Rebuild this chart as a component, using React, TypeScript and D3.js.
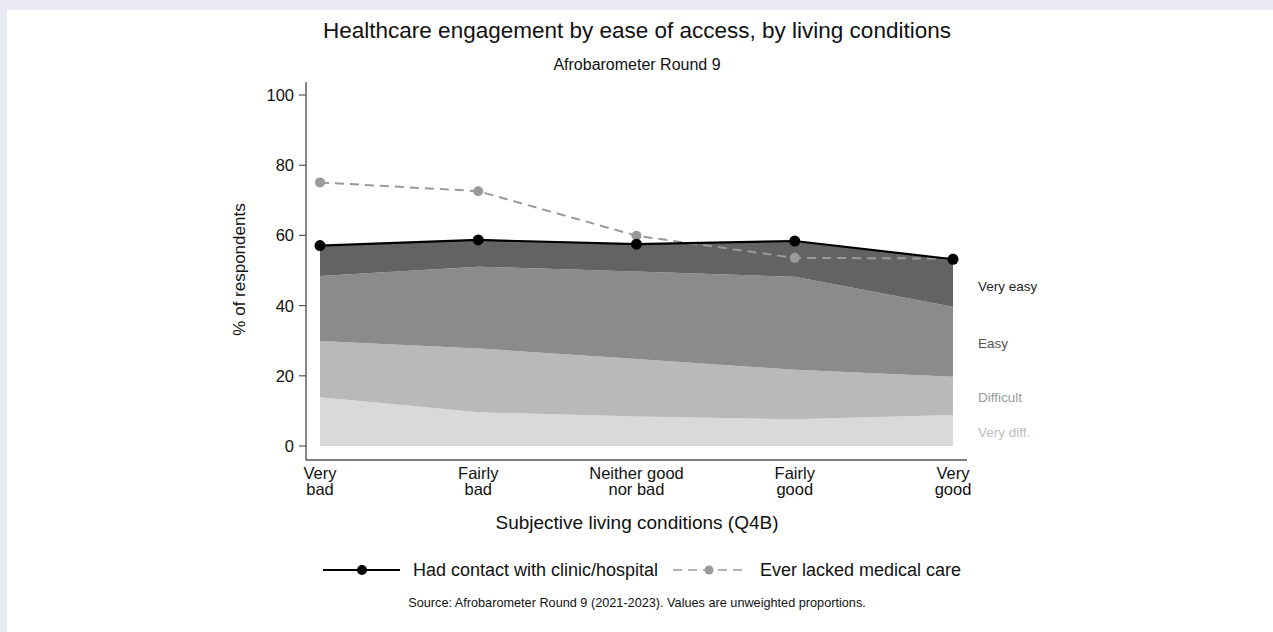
import { useEffect, useRef } from "react";
import * as d3 from "d3";

// living-condition categories (x axis), each label split in two lines
const CATEGORIES = ["Very bad", "Fairly bad", "Neither good nor bad", "Fairly good", "Very good"];
const CAT_LINES: string[][] = [
  ["Very", "bad"],
  ["Fairly", "bad"],
  ["Neither good", "nor bad"],
  ["Fairly", "good"],
  ["Very", "good"],
];

// ease-of-access layers, bottom to top (% of respondents)
const VERY_DIFFICULT = [13.9, 9.6, 8.4, 7.6, 8.8];
const DIFFICULT = [16.0, 18.2, 16.4, 14.1, 10.9];
const EASY = [18.5, 23.3, 24.9, 26.5, 20.0];
const VERY_EASY = [8.7, 7.6, 7.8, 10.2, 13.5];

// line series
const HAD_CONTACT = [57.1, 58.7, 57.5, 58.4, 53.2];
const LACKED_CARE = [75.1, 72.6, 59.9, 53.6, 53.4];

const Y_TICKS = [0, 20, 40, 60, 80, 100];

const LAYERS = [
  { key: "vdiff", label: "Very diff.", values: VERY_DIFFICULT, fill: "#d9d9d9", text: "#bdbdbd" },
  { key: "diff", label: "Difficult", values: DIFFICULT, fill: "#b9b9b9", text: "#9a9a9a" },
  { key: "easy", label: "Easy", values: EASY, fill: "#8b8b8b", text: "#555555" },
  { key: "veasy", label: "Very easy", values: VERY_EASY, fill: "#636363", text: "#262626" },
];

const FONT = "'Liberation Sans', Arial, Helvetica, sans-serif";

export default function App() {
  const svgRef = useRef<SVGSVGElement>(null);

  useEffect(() => {
    if (!svgRef.current) return;
    const svg = d3.select(svgRef.current);
    svg.selectAll("*").remove();

    const width = 1273;
    const height = 632;

    svg.attr("width", width).attr("height", height).style("font-family", FONT);

    // outer frame: lavender border top/left, white panel
    svg.append("rect").attr("width", width).attr("height", height).attr("fill", "#eaeaf4");
    svg.append("rect").attr("x", 7).attr("y", 10).attr("width", width - 7).attr("height", height - 10).attr("fill", "#ffffff");

    const x = d3.scalePoint<string>().domain(CATEGORIES).range([320, 953]);
    const y = d3.scaleLinear().domain([0, 100]).range([446, 95]);

    // stacked areas
    const rows = CATEGORIES.map((c, i) => {
      const r: Record<string, number | string> = { cat: c };
      LAYERS.forEach((l) => (r[l.key] = l.values[i]));
      return r;
    });
    const stack = d3.stack<Record<string, number | string>>().keys(LAYERS.map((l) => l.key));
    const series = stack(rows as any);

    const area = d3
      .area<any>()
      .x((d) => x(d.data.cat as string)!)
      .y0((d) => y(d[0]))
      .y1((d) => y(d[1]));

    const areas = svg.append("g");
    series.forEach((s, i) => {
      areas.append("path").attr("d", area(s as any)).attr("fill", LAYERS[i].fill);
    });

    // axes
    const axisColor = "#555555";
    svg
      .append("line")
      .attr("x1", 306)
      .attr("x2", 306)
      .attr("y1", 82)
      .attr("y2", 460)
      .attr("stroke", axisColor)
      .attr("stroke-width", 1.4);
    svg
      .append("line")
      .attr("x1", 306)
      .attr("x2", 967)
      .attr("y1", 460)
      .attr("y2", 460)
      .attr("stroke", axisColor)
      .attr("stroke-width", 1.4);

    const yAxis = svg.append("g");
    Y_TICKS.forEach((t) => {
      yAxis
        .append("line")
        .attr("x1", 299)
        .attr("x2", 306)
        .attr("y1", y(t))
        .attr("y2", y(t))
        .attr("stroke", axisColor)
        .attr("stroke-width", 1.2);
      yAxis
        .append("text")
        .attr("x", 294)
        .attr("y", y(t))
        .attr("dy", "0.36em")
        .attr("text-anchor", "end")
        .attr("font-size", 16.5)
        .attr("fill", "#111")
        .text(String(t));
    });

    svg
      .append("text")
      .attr("transform", `translate(245,${y(50) - 1}) rotate(-90)`)
      .attr("text-anchor", "middle")
      .attr("font-size", 17)
      .attr("fill", "#111")
      .text("% of respondents");

    // two-line category labels, one text element per line
    const xAxis = svg.append("g");
    CATEGORIES.forEach((c, i) => {
      CAT_LINES[i].forEach((lineText, j) => {
        xAxis
          .append("text")
          .attr("x", x(c)!)
          .attr("y", 479 + j * 16)
          .attr("text-anchor", "middle")
          .attr("font-size", 16.5)
          .attr("fill", "#111")
          .text(lineText);
      });
    });

    svg
      .append("text")
      .attr("x", 637)
      .attr("y", 529)
      .attr("text-anchor", "middle")
      .attr("font-size", 19)
      .attr("fill", "#111")
      .text("Subjective living conditions (Q4B)");

    // lines
    const line = d3
      .line<number>()
      .x((_, i) => x(CATEGORIES[i])!)
      .y((d) => y(d));

    svg
      .append("path")
      .attr("d", line(LACKED_CARE))
      .attr("fill", "none")
      .attr("stroke", "#9a9a9a")
      .attr("stroke-width", 2)
      .attr("stroke-dasharray", "9,6");
    svg
      .append("g")
      .selectAll("circle")
      .data(LACKED_CARE)
      .join("circle")
      .attr("cx", (_, i) => x(CATEGORIES[i])!)
      .attr("cy", (d) => y(d))
      .attr("r", 5)
      .attr("fill", "#9a9a9a");

    svg
      .append("path")
      .attr("d", line(HAD_CONTACT))
      .attr("fill", "none")
      .attr("stroke", "#000")
      .attr("stroke-width", 2.2);
    svg
      .append("g")
      .selectAll("circle")
      .data(HAD_CONTACT)
      .join("circle")
      .attr("cx", (_, i) => x(CATEGORIES[i])!)
      .attr("cy", (d) => y(d))
      .attr("r", 5.5)
      .attr("fill", "#000");

    // right-hand layer labels
    const labelY = [432, 397, 343, 286];
    LAYERS.forEach((l, i) => {
      svg
        .append("text")
        .attr("x", 978)
        .attr("y", labelY[i])
        .attr("dy", "0.35em")
        .attr("font-size", 13.5)
        .attr("fill", l.text)
        .text(l.label);
    });

    // titles
    svg
      .append("text")
      .attr("x", 637)
      .attr("y", 38)
      .attr("text-anchor", "middle")
      .attr("font-size", 22.5)
      .attr("fill", "#111")
      .text("Healthcare engagement by ease of access, by living conditions");
    svg
      .append("text")
      .attr("x", 637)
      .attr("y", 70)
      .attr("text-anchor", "middle")
      .attr("font-size", 16)
      .attr("fill", "#111")
      .text("Afrobarometer Round 9");

    // legend
    const lg = svg.append("g");
    const legY = 570;
    lg.append("line").attr("x1", 323).attr("x2", 400).attr("y1", legY).attr("y2", legY).attr("stroke", "#000").attr("stroke-width", 2.2);
    lg.append("circle").attr("cx", 362).attr("cy", legY).attr("r", 5).attr("fill", "#000");
    lg.append("text").attr("x", 413).attr("y", legY).attr("dy", "0.35em").attr("font-size", 18).attr("fill", "#111").text("Had contact with clinic/hospital");
    lg.append("line")
      .attr("x1", 673)
      .attr("x2", 746)
      .attr("y1", legY)
      .attr("y2", legY)
      .attr("stroke", "#9a9a9a")
      .attr("stroke-width", 1.6)
      .attr("stroke-dasharray", "9,6");
    lg.append("circle").attr("cx", 709).attr("cy", legY).attr("r", 4.5).attr("fill", "#9a9a9a");
    lg.append("text").attr("x", 760).attr("y", legY).attr("dy", "0.35em").attr("font-size", 18).attr("fill", "#111").text("Ever lacked medical care");

    svg
      .append("text")
      .attr("x", 637)
      .attr("y", 607)
      .attr("text-anchor", "middle")
      .attr("font-size", 12.7)
      .attr("fill", "#111")
      .text("Source: Afrobarometer Round 9 (2021-2023). Values are unweighted proportions.");
  }, []);

  return <svg ref={svgRef} style={{ position: "absolute", left: 0, top: 0, display: "block" }} />;
}
